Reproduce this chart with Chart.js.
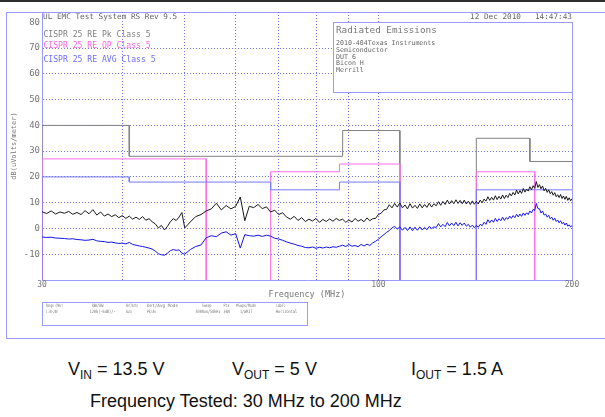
<!DOCTYPE html>
<html>
<head>
<meta charset="utf-8">
<title>Radiated Emissions</title>
<script src="https://cdn.jsdelivr.net/npm/chart.js@4.4.0/dist/chart.umd.min.js"></script>
<style>
  html, body { margin: 0; padding: 0; background: #fff; }
  body { width: 605px; height: 417px; position: relative; overflow: hidden; }
  #emi { position: absolute; left: 0; top: 0; }
  .cond {
    position: absolute;
    font: 18px 'Liberation Sans', Arial, sans-serif;
    line-height: 18px;
    color: #111;
    white-space: nowrap;
  }
  .cond sub { font-size: 12px; vertical-align: -4px; line-height: 0; }
</style>
</head>
<body>
<canvas id="emi" width="605" height="345"></canvas>
<div class="cond" style="left:68px; top:360px">V<sub>IN</sub> = 13.5 V</div>
<div class="cond" style="left:232px; top:360px">V<sub>OUT</sub> = 5 V</div>
<div class="cond" style="left:411px; top:360px">I<sub>OUT</sub> = 1.5 A</div>
<div class="cond" style="left:90px; top:392px">Frequency Tested: 30 MHz to 200 MHz</div>
<script>
// sweep frequencies in MHz
const sweepFreq = [
  30, 30.5, 31, 31.5, 32, 32.5, 33, 33.5, 34, 34.5, 35, 35.5, 36, 36.5, 37, 37.5, 38, 38.5, 39, 39.5,
  40, 40.5, 41, 41.5, 42, 42.5, 43, 43.5, 44, 44.5, 45, 45.5, 46, 46.5, 47, 47.5, 48, 48.5, 49, 49.5,
  50, 51, 52, 53, 54, 55, 56, 57, 58, 59, 60, 61, 62, 63, 64, 65, 66, 67, 68, 69,
  70, 71, 72, 73, 74, 75, 76, 77, 78, 79, 80, 81, 82, 83, 84, 85, 86, 87,
  88, 89, 90, 91, 92, 93, 94, 95, 96, 97,
  98, 99, 100, 101, 102, 103, 104, 105, 106, 107,
  108, 109, 110, 111, 112, 113, 114, 115, 116, 117,
  118, 119, 120, 121, 122, 123, 124, 125, 126, 127,
  128, 129, 130, 131, 132, 133, 134, 135, 136, 137,
  138, 139, 140, 141, 142, 143, 144, 145, 146, 147,
  148, 149, 150, 151, 152, 153, 154, 155, 156, 157,
  158, 159, 160, 161, 162, 163, 164, 165, 166, 167,
  168, 169, 170, 171, 172, 173, 174, 175, 176, 177,
  178, 179, 180, 181, 182, 183, 184, 185, 186, 187,
  188, 189, 190, 191, 192, 193, 194, 195, 196, 197,
  198, 199, 200
];

// peak detector trace, dB(uV/m)
const peakLevel = [
  6.5, 5.8, 6.8, 5.6, 6.4, 5.9, 6.6, 5.5, 6.2, 5.4, 6.9, 5.7, 7.3, 5.2, 6.4, 4.8, 5.6, 4.6, 5.3, 4.2,
  5.0, 3.9, 4.8, 3.6, 4.4, 3.5, 4.6, 3.2, 3.8, 2.6, 1.8, 0.2, 1.2, -0.6, 0.8, 2.6, 3.8, 3.1, 4.4, 6.2,
  0.2, 2.5, 4.6, 5.4, 6.8, 7.6, 9.8, 7.2, 8.9, 7.6, 8.6, 12.2, 3.0, 8.6, 8.1, 9.3, 7.7, 8.4, 6.4, 7.1,
  5.4, 6.1, 4.4, 3.6, 4.7, 3.1, 4.2, 2.7, 3.6, 2.9, 3.9, 2.4, 3.5, 2.7, 3.7, 2.8, 3.9, 3.1,
  3.6, 2.4, 3.3, 2.5, 3.9, 2.8, 3.5, 2.6, 4.1, 3.0,
  3.8, 3.9, 5.4, 5.9, 7.2, 7.4, 9.2, 8.0, 9.7, 8.3,
  9.9, 8.0, 9.1, 7.6, 9.6, 7.9, 9.0, 7.8, 9.5, 8.0,
  9.3, 8.2, 9.8, 8.3, 9.6, 8.8, 10.4, 9.0, 10.5, 9.3,
  11.0, 9.5, 10.8, 9.6, 11.1, 9.7, 10.9, 9.6, 11.0, 9.5,
  10.6, 9.3, 10.7, 9.4, 10.5, 9.5, 11.0, 10.0, 11.4, 10.6,
  12.3, 10.9, 12.1, 11.0, 12.7, 11.2, 12.5, 11.4, 13.0, 11.6,
  12.9, 12.0, 13.6, 12.6, 14.0, 13.0, 14.9, 13.4, 14.7, 13.6,
  15.5, 14.1, 15.3, 14.5, 16.2, 15.0, 16.6, 15.6, 18.2, 15.9,
  17.0, 15.4, 16.5, 14.6, 15.6, 14.0, 15.0, 13.5, 14.3, 12.9,
  13.9, 12.3, 13.1, 12.0, 13.2, 11.6, 12.6, 11.3, 12.5, 10.9,
  11.9, 10.7, 11.6
];

// average detector trace, dB(uV/m)
const avgLevel = [
  -3.3, -3.5, -3.4, -3.7, -3.8, -3.9, -4.1, -4.0, -4.3, -4.4, -4.6, -4.5, -4.2, -4.8, -5.0, -5.1, -5.4, -5.3, -5.6, -5.8,
  -5.7, -6.0, -5.4, -6.2, -6.5, -6.8, -7.0, -7.3, -7.6, -8.0, -8.8, -9.8, -10.2, -10.4, -9.6, -8.6, -8.2, -8.5, -8.3, -9.6,
  -10.0, -8.2, -7.0, -6.4, -3.6, -2.8, -3.2, -1.8, -1.3, -2.6, -2.0, -7.6, -2.4, -2.8, -3.0, -2.6, -3.1, -2.6, -3.0, -3.8,
  -4.1, -4.6, -5.2, -5.7, -6.1, -6.6, -6.9, -7.4, -7.5, -7.2, -7.7, -7.3, -7.6, -7.2, -7.5, -7.1, -7.3, -6.9,
  -6.5, -7.0, -6.2, -6.9, -6.6, -7.1, -6.2, -6.8, -6.1, -6.6,
  -5.6, -5.0, -4.2, -3.2, -2.4, -1.5, -0.8, 0.2, 0.8, -0.2,
  0.6, -0.7, 0.4, -0.8, 0.6, -0.9, 0.5, -0.7, 0.6, -0.6,
  0.4, -0.5, 0.8, 0.0, 0.6, 0.4, 1.9, 0.6, 1.6, 0.7,
  2.3, 1.0, 2.1, 1.1, 2.4, 1.0, 2.2, 1.2, 2.1, 0.9,
  1.6, 0.5, 1.3, 0.3, 1.2, 0.5, 1.6, 1.1, 2.4, 1.6,
  3.4, 2.2, 3.3, 2.4, 3.9, 2.7, 3.8, 3.0, 4.4, 3.1,
  4.2, 3.6, 4.8, 3.9, 5.0, 4.2, 5.5, 4.5, 5.6, 4.7,
  6.0, 5.1, 6.1, 5.4, 6.8, 6.0, 7.4, 7.0, 9.7, 7.8,
  7.6, 6.0, 6.8, 5.2, 5.6, 4.4, 5.1, 3.8, 4.4, 3.2,
  4.0, 2.7, 3.3, 2.2, 3.0, 1.8, 2.4, 1.3, 2.1, 0.9,
  1.4, 0.6, 1.1
];

// CISPR 25 class 5 limit bands: [start MHz, stop MHz, level]
const pkLimit = [[30, 41, 40], [41, 88, 28], [88, 108, 38], [142, 172, 35], [172, 200, 26]];
const qpLimit = [[30, 54, 27], [68, 87, 22], [87, 108, 25], [142, 175, 22]];
const avgLimit = [[30, 41, 20], [41, 68, 18], [68, 87, 15], [87, 108, 18], [142, 200, 15]];

const xTicks = [30, 40, 50, 60, 70, 80, 90, 100, 200];
const xTickLabels = { 30: '30', 100: '100', 200: '200' };
const yTicks = [-20, -10, 0, 10, 20, 30, 40, 50, 60, 70, 80];

const FLOOR = -20;
const MONO = "'DejaVu Sans Mono', monospace";
const frameColor = 'rgb(155,155,255)';
const gridColor = 'rgb(115,115,250)';
const textGray = '#777';

// stepped limit line; gaps between bands drop to the floor and break the line
function limitSteps(bands) {
  const pts = [];
  let prevEnd = null;
  bands.forEach(([start, stop, level]) => {
    if (prevEnd === null || start > prevEnd) {
      if (prevEnd !== null) {
        pts.push({ x: prevEnd, y: FLOOR });
        pts.push({ x: (prevEnd + start) / 2, y: null });
      }
      pts.push({ x: start, y: FLOOR });
    }
    pts.push({ x: start, y: level }, { x: stop, y: level });
    prevEnd = stop;
  });
  if (prevEnd < 200) pts.push({ x: prevEnd, y: FLOOR });
  return pts;
}

function trace(values) {
  return sweepFreq.map((f, i) => ({ x: f, y: values[i] }));
}

function text(ctx, str, x, y, size, color, align, maxWidth) {
  ctx.font = size + 'px ' + MONO;
  ctx.fillStyle = color;
  ctx.textAlign = align || 'left';
  ctx.textBaseline = 'middle';
  if (maxWidth) ctx.fillText(str, x, y, maxWidth);
  else ctx.fillText(str, x, y);
}

// settings table under the plot
const tableCols = [
  [46, 'Range (MHz)', 17, '1:30-200', 46, 11.5],
  [92, 'RBW/VBW', 11.5, '120k(-6dB)/-', 89.5, 26],
  [126, 'Ref/Attn', 12, 'Auto', 126, 6],
  [147, 'Det/Avg Mode', 31, 'Pk/Av', 147, 9],
  [202, 'Sweep', 9.5, '5000us/50kHz', 195.5, 25],
  [223.5, 'Pts', 6, '3400', 223.5, 6.5],
  [236, '#Swps/Mode', 20, '1/WRIT', 240, 12.5],
  [276, 'Label', 9, 'Horizontal', 276, 21]
];

const emiFrame = {
  id: 'emiFrame',
  beforeDraw(chart) {
    const { ctx, width, height } = chart;
    ctx.save();
    ctx.fillStyle = '#fff';
    ctx.fillRect(0, 0, width, height);
    ctx.fillStyle = '#2e2e2e';
    ctx.fillRect(0, 0, width, 2);
    ctx.strokeStyle = frameColor;
    ctx.lineWidth = 1;
    ctx.strokeRect(6.5, 12.5, width + 20, 326);
    ctx.restore();
  },
  afterDraw(chart) {
    const { ctx, chartArea: area, scales: { x, y } } = chart;
    ctx.save();
    ctx.strokeStyle = frameColor;
    ctx.lineWidth = 1;

    // right edge of the plot
    const top80 = Math.round(y.getPixelForValue(80)) + 0.5;
    ctx.beginPath();
    ctx.moveTo(Math.round(area.right) + 0.5, top80);
    ctx.lineTo(Math.round(area.right) + 0.5, area.bottom);
    ctx.stroke();

    // info box
    const bx = Math.round(x.getPixelForValue(85.1)) + 0.5;
    const bb = Math.round(y.getPixelForValue(53.1)) + 0.5;
    ctx.fillStyle = '#fff';
    ctx.fillRect(bx, top80, area.right - bx, bb - top80);
    ctx.strokeRect(bx, top80, Math.round(area.right) - bx + 0.5, bb - top80);
    text(ctx, 'Radiated Emissions', bx + 2.5, 31, 9.3, textGray);
    const info = ['2010-404Texas Instruments', 'Semiconductor', 'DUT 6', 'Bicon H', 'Merrill'];
    [43.5, 50.3, 57, 63.7, 70.5].forEach((ty, i) => text(ctx, info[i], bx + 2.5, ty, 6.6, '#666'));

    // header
    text(ctx, 'UL EMC Test System RS Rev 9.5', 43, 17, 7.7, '#666');
    text(ctx, '12 Dec 2010', 470, 17, 7.7, '#666');
    text(ctx, '14:47:43', 572, 17, 7.7, '#666', 'right');

    // limit legend
    text(ctx, 'CISPR 25 RE Pk Class 5', 43.5, 34.5, 8.1, '#808080');
    text(ctx, 'CISPR 25 RE QP Class 5', 43.5, 45.5, 8.1, 'rgb(255,100,225)');
    text(ctx, 'CISPR 25 RE AVG Class 5', 43.5, 59.5, 8.1, 'rgb(110,110,255)');

    // settings table
    ctx.strokeStyle = frameColor;
    ctx.strokeRect(42.5, 302.5, 265, 23);
    tableCols.forEach(([hx, head, hw, val, vx, vw]) => {
      text(ctx, head, hx, 305.8, 4.5, '#777', 'left', hw);
      text(ctx, val, vx, 311.7, 4.5, '#777', 'left', vw);
    });
    ctx.restore();
  }
};

const lineStyle = { pointRadius: 0, borderWidth: 1, tension: 0, fill: false, spanGaps: false };

new Chart(document.getElementById('emi'), {
  type: 'line',
  data: {
    datasets: [
      Object.assign({ label: 'Peak', data: trace(peakLevel), borderColor: 'rgb(25,25,25)' }, lineStyle),
      Object.assign({ label: 'Average', data: trace(avgLevel), borderColor: 'rgb(20,20,235)' }, lineStyle),
      Object.assign({ label: 'CISPR 25 RE AVG Class 5', data: limitSteps(avgLimit), borderColor: 'rgb(120,120,255)' }, lineStyle),
      Object.assign({ label: 'CISPR 25 RE QP Class 5', data: limitSteps(qpLimit), borderColor: 'rgb(255,110,230)' }, lineStyle),
      Object.assign({ label: 'CISPR 25 RE Pk Class 5', data: limitSteps(pkLimit), borderColor: 'rgb(128,128,128)' }, lineStyle)
    ]
  },
  options: {
    responsive: false,
    animation: false,
    events: [],
    layout: { padding: { left: 6, right: 33, top: 12, bottom: 45 } },
    plugins: { legend: { display: false }, tooltip: { enabled: false } },
    scales: {
      x: {
        type: 'logarithmic',
        min: 30,
        max: 200,
        afterBuildTicks: (scale) => { scale.ticks = xTicks.map(v => ({ value: v })); },
        afterFit: (scale) => { scale.height = 20; },
        ticks: {
          autoSkip: false,
          maxRotation: 0,
          padding: 0,
          color: textGray,
          font: { family: MONO, size: 8 },
          callback: (v) => xTickLabels[v] || ''
        },
        grid: {
          drawTicks: false,
          color: (c) => (c.tick && c.tick.value === 200) ? 'rgba(0,0,0,0)' : gridColor
        },
        border: { color: frameColor, width: 1, dash: [1, 2] },
        title: {
          display: true,
          text: 'Frequency (MHz)',
          color: textGray,
          font: { family: MONO, size: 8.5 },
          padding: 0
        }
      },
      y: {
        min: FLOOR,
        max: 84,
        afterBuildTicks: (scale) => { scale.ticks = yTicks.map(v => ({ value: v })); },
        afterFit: (scale) => { scale.width = 36; },
        ticks: {
          padding: 2,
          color: textGray,
          font: { family: MONO, size: 9 },
          callback: (v) => (v === FLOOR ? '' : String(v))
        },
        grid: {
          drawTicks: false,
          color: (c) => (c.tick && (c.tick.value === 80 || c.tick.value === FLOOR)) ? 'rgba(0,0,0,0)' : gridColor
        },
        border: { color: frameColor, width: 1, dash: [1, 2] },
        title: {
          display: true,
          text: 'dB(uVolts/meter)',
          color: textGray,
          font: { family: MONO, size: 7 },
          padding: { top: 4, bottom: 0 }
        }
      }
    }
  },
  plugins: [emiFrame]
});
</script>
</body>
</html>
